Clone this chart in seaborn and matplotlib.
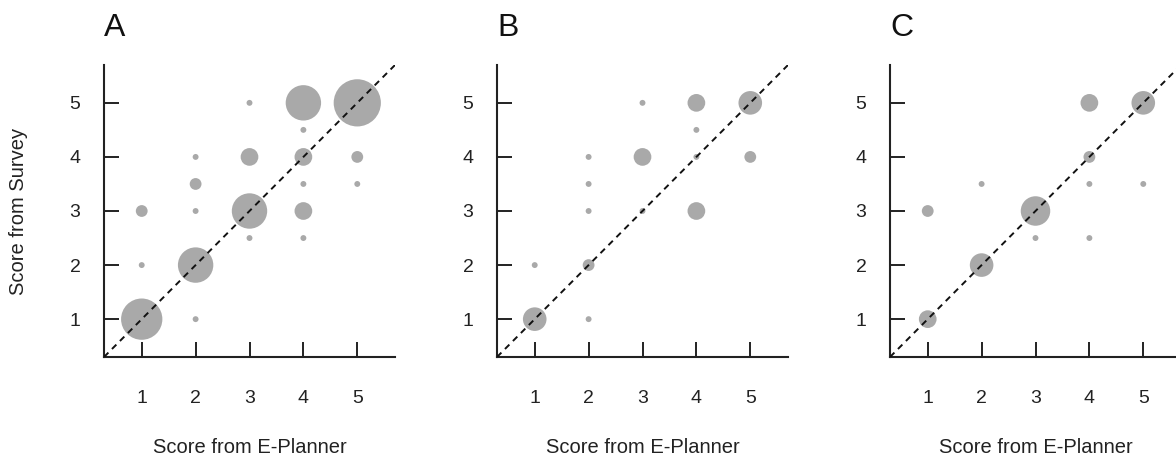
import matplotlib
matplotlib.use("Agg")
import matplotlib.pyplot as plt
import numpy as np
import pandas as pd
import seaborn as sns

# points: E-Planner score (x), survey score (y), number of respondents (n)
a_x = [1, 1, 1, 2, 2, 2, 2, 2, 3, 3, 3, 3, 4, 4, 4, 4, 4, 4, 5, 5, 5]
a_y = [1, 2, 3, 1, 2, 3, 3.5, 4, 2.5, 3, 4, 5, 2.5, 3, 3.5, 4, 4.5, 5, 3.5, 4, 5]
a_n = [7, 1, 2, 1, 6, 1, 2, 1, 1, 6, 3, 1, 1, 3, 1, 3, 1, 6, 1, 2, 8]

b_x = [1, 1, 2, 2, 2, 2, 2, 3, 3, 3, 4, 4, 4, 4, 5, 5]
b_y = [1, 2, 1, 2, 3, 3.5, 4, 3, 4, 5, 3, 4, 4.5, 5, 4, 5]
b_n = [4, 1, 1, 2, 1, 1, 1, 1, 3, 1, 3, 1, 1, 3, 2, 4]

c_x = [1, 1, 2, 2, 3, 3, 4, 4, 4, 4, 5, 5]
c_y = [1, 3, 2, 3.5, 2.5, 3, 2.5, 3.5, 4, 5, 3.5, 5]
c_n = [3, 2, 4, 1, 1, 5, 1, 1, 2, 3, 1, 4]

panels = ["A", "B", "C"]
ticks = [1, 2, 3, 4, 5]

sns.set_theme(style="white")
plt.rcParams["font.family"] = ["Liberation Sans", "DejaVu Sans"]

fig = plt.figure(figsize=(11.76, 4.55), dpi=100)
lefts = [104, 497, 890]
W, H = 1176, 455

data = [(a_x, a_y, a_n), (b_x, b_y, b_n), (c_x, c_y, c_n)]
all_n = sorted(set(a_n + b_n + c_n))
# radius proportional to count (about 2.95 px per respondent)
size_map = {n: (2 * 0.72 * 2.95 * n) ** 2 for n in all_n}

for i, (label, (xs, ys, ns)) in enumerate(zip(panels, data)):
    ax = fig.add_axes([lefts[i] / W, (H - 357) / H, 291 / W, 292 / H])
    df = pd.DataFrame({"x": xs, "y": ys, "n": ns})
    sns.scatterplot(data=df, x="x", y="y", size="n", sizes=size_map,
                    color="#a9a9a9", linewidth=0, alpha=1, legend=False,
                    ax=ax, zorder=2)
    ax.plot([0.3, 5.7], [0.3, 5.7], ls=(0, (3.2, 2.6)), color="#111",
            lw=1.4, zorder=3)
    ax.set_xlim(0.3, 5.7)
    ax.set_ylim(0.3, 5.7)
    ax.set_xticks(ticks)
    ax.set_yticks(ticks)
    sns.despine(ax=ax)
    for sp in ["left", "bottom"]:
        ax.spines[sp].set_linewidth(1.5)
        ax.spines[sp].set_color("#222")
    ax.tick_params(bottom=True, left=True, direction="in", length=10.5,
                   width=1.4, color="#222", labelsize=14, labelcolor="#222")
    ax.tick_params(axis="x", pad=24)
    ax.tick_params(axis="y", pad=17)
    ax.set_xlabel("Score from E-Planner", fontsize=14.5, color="#222",
                  labelpad=22)
    if i == 0:
        ax.set_ylabel("Score from Survey", fontsize=14.5, color="#222")
        ax.yaxis.set_label_coords(-0.262, 0.5)
    else:
        ax.set_ylabel("")
    ax.set_title(label, loc="left", fontsize=23, pad=21, color="#111")

fig.savefig("out.png", dpi=100)
